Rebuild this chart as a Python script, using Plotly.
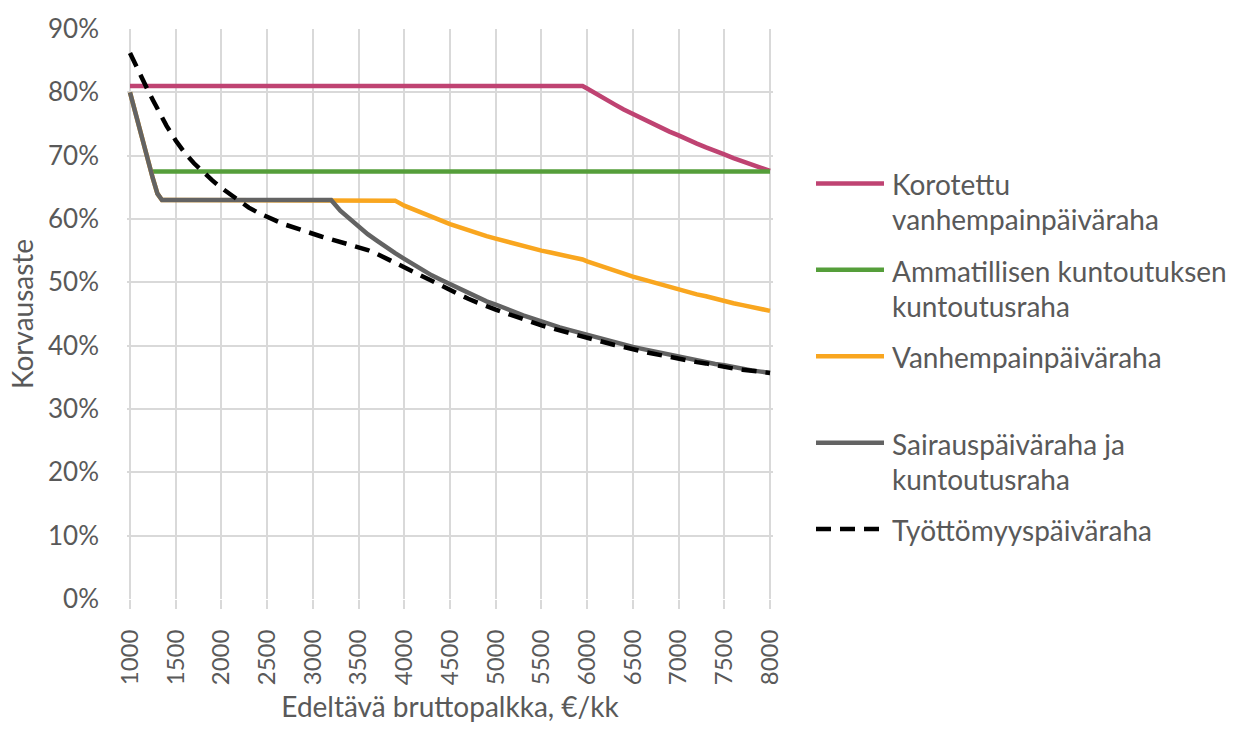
import plotly.graph_objects as go

# ---------------- data ----------------
wage = [1000, 1050, 1100, 1150, 1200, 1250, 1300, 1350,
        1400, 1500, 1600, 1700, 1800, 1900, 2000, 2100, 2200, 2300,
        2400, 2500, 2600, 2700, 2800, 2900, 3000, 3100, 3200, 3300,
        3400, 3500, 3600, 3700, 3800, 3900, 4000, 4100, 4200, 4300,
        4400, 4500, 4600, 4700, 4800, 4900, 5000, 5100, 5200, 5300,
        5400, 5500, 5600, 5700, 5800, 5900, 5950, 6000, 6100, 6200,
        6300, 6400, 6500, 6600, 6700, 6800, 6900, 7000, 7100, 7200,
        7300, 7400, 7500, 7600, 7700, 7800, 7900, 8000]

korotettu_vanhempainpaivaraha = [
    81.0, 81.0, 81.0, 81.0, 81.0, 81.0, 81.0, 81.0,
    81.0, 81.0, 81.0, 81.0, 81.0, 81.0, 81.0, 81.0, 81.0, 81.0,
    81.0, 81.0, 81.0, 81.0, 81.0, 81.0, 81.0, 81.0, 81.0, 81.0,
    81.0, 81.0, 81.0, 81.0, 81.0, 81.0, 81.0, 81.0, 81.0, 81.0,
    81.0, 81.0, 81.0, 81.0, 81.0, 81.0, 81.0, 81.0, 81.0, 81.0,
    81.0, 81.0, 81.0, 81.0, 81.0, 81.0, 81.0, 80.6, 79.7, 78.9,
    78.1, 77.3, 76.6, 75.9, 75.1, 74.5, 73.8, 73.2, 72.5, 71.9,
    71.3, 70.8, 70.2, 69.6, 69.1, 68.6, 68.1, 67.6]

ammatillinen_kuntoutusraha = [
    None, None, None, None, None, 67.5, 67.5, 67.5,
    67.5, 67.5, 67.5, 67.5, 67.5, 67.5, 67.5, 67.5, 67.5, 67.5,
    67.5, 67.5, 67.5, 67.5, 67.5, 67.5, 67.5, 67.5, 67.5, 67.5,
    67.5, 67.5, 67.5, 67.5, 67.5, 67.5, 67.5, 67.5, 67.5, 67.5,
    67.5, 67.5, 67.5, 67.5, 67.5, 67.5, 67.5, 67.5, 67.5, 67.5,
    67.5, 67.5, 67.5, 67.5, 67.5, 67.5, 67.5, 67.5, 67.5, 67.5,
    67.5, 67.5, 67.5, 67.5, 67.5, 67.5, 67.5, 67.5, 67.5, 67.5,
    67.5, 67.5, 67.5, 67.5, 67.5, 67.5, 67.5, 67.5]

vanhempainpaivaraha = [
    80.0, 77.2, 74.5, 71.8, 69.0, 66.4, 64.0, 63.0,
    63.0, 63.0, 63.0, 63.0, 63.0, 63.0, 63.0, 63.0, 63.0, 63.0,
    63.0, 63.0, 63.0, 63.0, 63.0, 63.0, 63.0, 63.0, 63.0, 63.0,
    63.0, 63.0, 63.0, 63.0, 63.0, 62.9, 62.1, 61.5, 60.9, 60.3,
    59.8, 59.2, 58.7, 58.2, 57.8, 57.3, 56.9, 56.5, 56.1, 55.7,
    55.4, 55.0, 54.7, 54.4, 54.0, 53.7, 53.6, 53.3, 52.8, 52.3,
    51.8, 51.4, 50.9, 50.5, 50.1, 49.6, 49.2, 48.9, 48.5, 48.1,
    47.8, 47.4, 47.1, 46.7, 46.4, 46.1, 45.8, 45.5]

sairauspaivaraha = [
    80.0, 77.2, 74.5, 71.8, 69.0, 66.4, 64.0, 63.0,
    63.0, 63.0, 63.0, 63.0, 63.0, 63.0, 63.0, 63.0, 63.0, 63.0,
    63.0, 63.0, 63.0, 63.0, 63.0, 63.0, 63.0, 63.0, 63.0, 61.3,
    60.0, 58.8, 57.6, 56.6, 55.5, 54.6, 53.7, 52.8, 51.9, 51.1,
    50.4, 49.7, 49.0, 48.3, 47.7, 47.0, 46.5, 45.9, 45.4, 44.8,
    44.3, 43.8, 43.4, 42.9, 42.5, 42.1, 41.9, 41.7, 41.3, 40.9,
    40.5, 40.2, 39.8, 39.5, 39.2, 38.8, 38.5, 38.2, 38.0, 37.7,
    37.4, 37.1, 36.9, 36.6, 36.4, 36.1, 35.9, 35.7]

tyottomyyspaivaraha = [
    86.2, 84.6, 83.1, 81.7, 80.2, 78.8, 77.4, 76.0,
    74.7, 72.4, 70.4, 68.8, 67.4, 66.1, 64.9, 63.8, 62.7, 61.8,
    61.0, 60.3, 59.7, 59.1, 58.6, 58.1, 57.6, 57.2, 56.8, 56.4,
    56.0, 55.6, 55.1, 54.5, 53.8, 53.0, 52.3, 51.6, 50.9, 50.2,
    49.4, 48.7, 48.1, 47.4, 46.8, 46.2, 45.7, 45.2, 44.7, 44.1,
    43.7, 43.2, 42.8, 42.4, 42.0, 41.6, 41.4, 41.2, 40.8, 40.5,
    40.1, 39.8, 39.4, 39.1, 38.8, 38.5, 38.2, 37.9, 37.7, 37.4,
    37.2, 36.9, 36.7, 36.4, 36.2, 36.0, 35.8, 35.7]

x_ticks = [1000, 1500, 2000, 2500, 3000, 3500, 4000, 4500,
           5000, 5500, 6000, 6500, 7000, 7500, 8000]
y_ticks = [0, 10, 20, 30, 40, 50, 60, 70, 80, 90]
y_tick_labels = ["0%", "10%", "20%", "30%", "40%", "50%",
                 "60%", "70%", "80%", "90%"]

series_names = [
    ["Korotettu", "vanhempainpäiväraha"],
    ["Ammatillisen kuntoutuksen", "kuntoutusraha"],
    ["Vanhempainpäiväraha"],
    ["Sairauspäiväraha ja", "kuntoutusraha"],
    ["Työttömyyspäiväraha"],
]
series_values = [korotettu_vanhempainpaivaraha, ammatillinen_kuntoutusraha,
                 vanhempainpaivaraha, sairauspaivaraha, tyottomyyspaivaraha]

# ---------------- styles / layout constants ----------------
colors = ["#BF4372", "#559E3A", "#F9A61F", "#636363", "#000000"]
dashes = ["solid", "solid", "solid", "solid", "15px,9px"]
LW = 4.5
TEXT = "#595959"
GRID = "#D9D9D9"
FONT = "Lato, 'Source Sans Pro', 'Noto Sans', sans-serif"

W, H = 1241, 730
ML, MR, MT, MB = 127, 468, 23, 120
PW, PH = W - ML - MR, H - MT - MB
units_per_px = (x_ticks[-1] - x_ticks[0]) / (PW - 6)
xpad = 3 * units_per_px


def px_x(px):
    return (px - ML) / PW


def px_y(py):
    return (H - MB - py) / PH


fig = go.Figure()
for names, vals, col, dsh in zip(series_names, series_values, colors, dashes):
    fig.add_trace(go.Scatter(
        x=wage, y=vals, mode="lines", name=" ".join(names),
        line=dict(color=col, width=LW, dash=dsh),
        connectgaps=False, showlegend=False,
        hovertemplate="%{x}: %{y:.1f}%<extra></extra>"))

# custom legend (long line samples, wrapped text like the original)
legend_y = [182, 271, 360, 449, 538]
shapes, annotations = [], []
for names, col, dsh, ly in zip(series_names, colors, dashes, legend_y):
    shapes.append(dict(type="line", xref="paper", yref="paper",
                       x0=px_x(816), x1=px_x(884), y0=px_y(ly), y1=px_y(ly),
                       line=dict(color=col, width=LW, dash=dsh)))
    for i, t in enumerate(names):
        annotations.append(dict(xref="paper", yref="paper", x=px_x(890),
                                y=px_y(ly + 36 * i + 1), text=t, showarrow=False,
                                xanchor="left", yanchor="middle",
                                font=dict(family=FONT, size=28, color=TEXT)))

fig.update_layout(
    width=W, height=H,
    margin=dict(l=ML, r=MR, t=MT, b=MB, pad=0),
    paper_bgcolor="white", plot_bgcolor="white",
    font=dict(family=FONT, size=28, color=TEXT),
    shapes=shapes, annotations=annotations,
    showlegend=False,
    xaxis=dict(
        range=[x_ticks[0] - xpad, x_ticks[-1] + xpad],
        tickmode="array", tickvals=x_ticks, ticktext=[str(v) for v in x_ticks],
        tickangle=-90, tickfont=dict(size=24, color=TEXT),
        ticklabelstandoff=11,
        showgrid=True, gridcolor=GRID, gridwidth=1.5,
        ticks="outside", ticklen=9, tickcolor=GRID, tickwidth=1.5,
        zeroline=False, showline=False,
        title=dict(text="Edeltävä bruttopalkka, €/kk", standoff=13,
                   font=dict(size=28, color=TEXT)),
    ),
    yaxis=dict(
        range=[0, 90],
        tickmode="array", tickvals=y_ticks, ticktext=y_tick_labels,
        tickfont=dict(size=26, color=TEXT),
        showgrid=True, gridcolor=GRID, gridwidth=1.5,
        ticks="", ticklabelstandoff=27,
        zeroline=False, showline=False,
        title=dict(text="Korvausaste", standoff=6,
                   font=dict(size=28, color=TEXT)),
    ),
)

fig.write_html(
    "out.html",
    config={"displayModeBar": False},
    post_script="document.body.style.margin='0';"
                "document.body.style.overflow='hidden';")
